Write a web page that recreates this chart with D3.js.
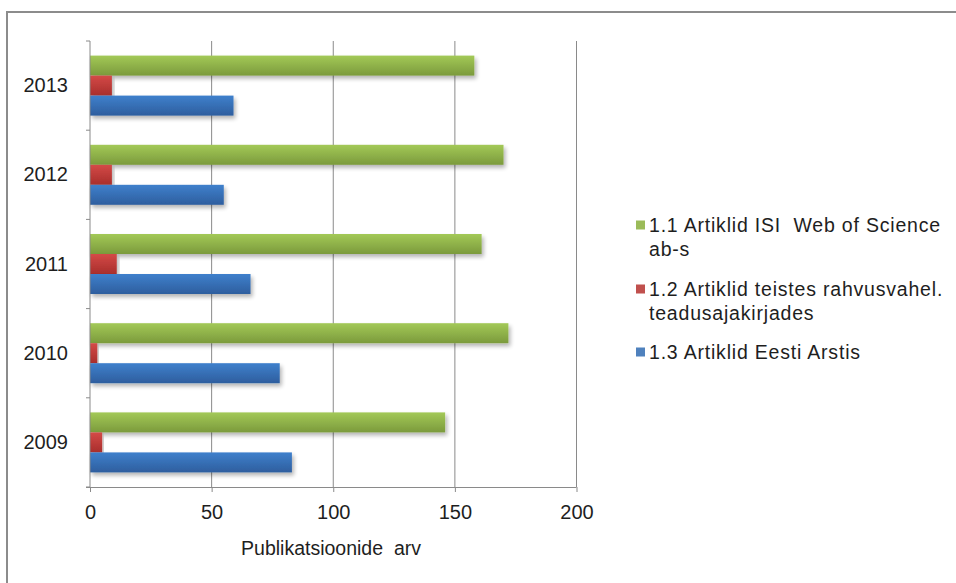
<!DOCTYPE html>
<html>
<head>
<meta charset="utf-8">
<script src="https://cdn.jsdelivr.net/npm/d3@7"></script>
<style>
  html, body { margin: 0; padding: 0; background: #fff; }
  svg { display: block; font-family: "Liberation Sans", Arial, sans-serif; }
</style>
</head>
<body>
<svg id="chart" width="956" height="583"></svg>
<script>
// Publication counts per year
const years = ["2009", "2010", "2011", "2012", "2013"];
const seriesNames = [
  ["1.1 Artiklid ISI  Web of Science", "ab-s"],
  ["1.2 Artiklid teistes rahvusvahel.", "teadusajakirjades"],
  ["1.3 Artiklid Eesti Arstis"]
];
const isiValues = [146, 172, 161, 170, 158];
const intlValues = [5, 3, 11, 9, 9];
const eestiArstValues = [83, 78, 66, 55, 59];
const xTicks = [0, 50, 100, 150, 200];
const xTitle = "Publikatsioonide  arv";

const seriesKeys = ["isi", "intl", "ea"];
const seriesColors = {
  isi: { top: "#a3c957", bottom: "#7b9a3c", solid: "#9bbb59" },
  intl: { top: "#d44a47", bottom: "#a82e2c", solid: "#c0504d" },
  ea: { top: "#3f80cc", bottom: "#2e5e9e", solid: "#4f81bd" }
};
const rows = years.map((y, i) => ({
  year: y, isi: isiValues[i], intl: intlValues[i], ea: eestiArstValues[i]
}));

const svg = d3.select("#chart");
const plot = { left: 90, right: 576.5, top: 41, bottom: 487 };
const textColor = "#1e1e1e";

// Outer frame
svg.append("rect")
  .attr("x", 7).attr("y", 12).attr("width", 960).attr("height", 600)
  .attr("fill", "none").attr("stroke", "#8c8c8c").attr("stroke-width", 2);

const defs = svg.append("defs");
seriesKeys.forEach(k => {
  const g = defs.append("linearGradient").attr("id", "grad-" + k)
    .attr("x1", 0).attr("y1", 0).attr("x2", 0).attr("y2", 1);
  g.append("stop").attr("offset", "0%").attr("stop-color", seriesColors[k].top);
  g.append("stop").attr("offset", "100%").attr("stop-color", seriesColors[k].bottom);
});
const shadow = defs.append("filter").attr("id", "shadow")
  .attr("x", "-5%").attr("y", "-20%").attr("width", "115%").attr("height", "160%");
shadow.append("feGaussianBlur").attr("in", "SourceAlpha").attr("stdDeviation", 2);
shadow.append("feOffset").attr("dx", 2).attr("dy", 3).attr("result", "off");
shadow.append("feComponentTransfer").append("feFuncA").attr("type", "linear").attr("slope", 0.3);
const merge = shadow.append("feMerge");
merge.append("feMergeNode");
merge.append("feMergeNode").attr("in", "SourceGraphic");

const x = d3.scaleLinear().domain([0, 200]).range([plot.left, plot.right]);
// 2013 at the top, 2009 at the bottom
const y = d3.scaleBand().domain(years.slice().reverse())
  .range([plot.top, plot.bottom]).paddingInner(0).paddingOuter(0);
const inner = d3.scaleBand().domain(seriesKeys)
  .range([0, y.bandwidth()]).paddingOuter(0.73).paddingInner(0);

// Vertical gridlines
svg.append("g").selectAll("line")
  .data(xTicks.filter(t => t > 0))
  .join("line")
  .attr("x1", d => x(d)).attr("x2", d => x(d))
  .attr("y1", plot.top).attr("y2", plot.bottom)
  .attr("stroke", "#8a8a8a").attr("stroke-width", 1);

// Bars
const groups = svg.append("g").selectAll("g")
  .data(rows).join("g")
  .attr("transform", d => `translate(0,${y(d.year)})`);
groups.selectAll("rect")
  .data(d => seriesKeys.map(k => ({ key: k, value: d[k] })))
  .join("rect")
  .attr("x", x(0))
  .attr("y", d => inner(d.key))
  .attr("width", d => x(d.value) - x(0))
  .attr("height", inner.bandwidth())
  .attr("fill", d => `url(#grad-${d.key})`)
  .attr("filter", "url(#shadow)");

// Axes
const xAxis = d3.axisBottom(x).tickValues(xTicks).tickSize(5).tickPadding(13);
const gx = svg.append("g").attr("transform", `translate(0,${plot.bottom})`).call(xAxis);
gx.select(".domain").attr("stroke", "#8a8a8a").attr("d", `M${plot.left - 4},0.5H${plot.right}`);
gx.selectAll(".tick line").attr("stroke", "#8a8a8a");
gx.selectAll(".tick text").attr("font-size", 20).attr("fill", textColor)
  .attr("font-family", "Liberation Sans, Arial, sans-serif");

const gy = svg.append("g").attr("transform", `translate(${plot.left},0)`);
gy.append("line").attr("x1", 0).attr("x2", 0).attr("y1", plot.top).attr("y2", plot.bottom)
  .attr("stroke", "#8a8a8a");
gy.selectAll("line.tick")
  .data(years.map(yy => y(yy)).concat([plot.bottom]))
  .join("line").attr("class", "tick")
  .attr("x1", -4).attr("x2", 0).attr("y1", d => d).attr("y2", d => d)
  .attr("stroke", "#8a8a8a");
gy.selectAll("text")
  .data(years).join("text")
  .attr("x", -22).attr("y", d => y(d) + y.bandwidth() / 2 - 0.5)
  .attr("dy", "0.35em").attr("text-anchor", "end")
  .attr("font-size", 20).attr("fill", textColor).text(d => d);

svg.append("text")
  .attr("x", 331).attr("y", 548).attr("dy", "0.35em").attr("text-anchor", "middle")
  .attr("font-size", 19.5).attr("fill", textColor)
  .attr("xml:space", "preserve")
  .text(xTitle);

// Legend
const legendY = [225, 289, 352];
const legend = svg.append("g");
seriesKeys.forEach((k, i) => {
  legend.append("rect")
    .attr("x", 636).attr("y", legendY[i] - 4.5).attr("width", 9).attr("height", 9)
    .attr("fill", seriesColors[k].solid);
  seriesNames[i].forEach((line, j) => {
    legend.append("text")
      .attr("x", 649).attr("y", legendY[i] + j * 24)
      .attr("dy", "0.35em").attr("font-size", 19.5).attr("fill", textColor)
      .attr("letter-spacing", 0.8)
      .attr("xml:space", "preserve")
      .text(line);
  });
});
</script>
</body>
</html>
